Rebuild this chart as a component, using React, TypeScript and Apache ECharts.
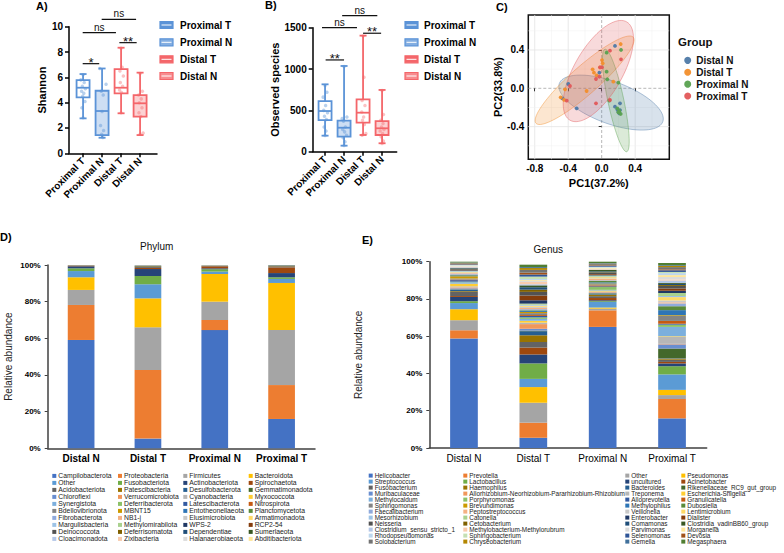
import React, { useEffect, useRef } from 'react';
import * as echarts from 'echarts';

const FONT = "'Liberation Sans', Arial, Helvetica, sans-serif";

// ---------------- Panels A / B : box plots ----------------
const boxGroups = ['Proximal T', 'Proximal N', 'Distal T', 'Distal N'];
// [min, Q1, median, Q3, max]
const shannonStats = [
  [2.76, 4.42, 5.18, 5.78, 6.26],
  [1.23, 1.44, 3.34, 4.94, 6.7],
  [3.16, 4.73, 5.18, 6.65, 8.34],
  [1.44, 2.89, 3.95, 4.6, 6.37],
];
const speciesStats = [
  [194, 383, 492, 613, 815],
  [73, 182, 290, 375, 1037],
  [202, 351, 472, 634, 1404],
  [102, 202, 283, 371, 747],
];
// [group, x offset, value]
const shannonPoints = [
  [0, -0.12, 5.8], [0, 0.06, 5.6], [0, -0.04, 5.3], [0, 0.12, 5.1], [0, -0.08, 4.9], [0, 0.04, 4.75], [0, -0.02, 4.5], [0, 0.1, 4.1], [0, -0.06, 3.6], [0, 0, 6.2], [0, 0, 2.8],
  [1, -0.12, 6.7], [1, 0.21, 5.45], [1, -0.04, 4.9], [1, 0.06, 4.6], [1, 0, 3.3], [1, -0.08, 2.2], [1, 0.08, 1.8], [1, -0.02, 1.5], [1, 0.04, 1.25],
  [2, 0, 8.3], [2, 0.06, 6.8], [2, -0.06, 6.5], [2, 0.12, 6.1], [2, -0.04, 5.6], [2, 0.08, 5.3], [2, -0.08, 5.0], [2, 0.02, 4.8], [2, 0, 3.2],
  [3, 0, 6.3], [3, 0.12, 4.9], [3, -0.08, 4.6], [3, 0.06, 4.3], [3, -0.04, 4.0], [3, 0.1, 3.6], [3, -0.06, 3.2], [3, 0.04, 2.9], [3, 0, 1.5], [3, 0.16, 1.6],
];
const speciesPoints = [
  [0, 0, 800], [0, 0.1, 720], [0, -0.1, 660], [0, 0.03, 560], [0, -0.07, 500], [0, 0.13, 470], [0, -0.03, 430], [0, 0.07, 390], [0, -0.05, 300], [0, 0.05, 250], [0, 0, 195],
  [1, 0, 1030], [1, -0.1, 400], [1, 0.15, 420], [1, -0.03, 370], [1, 0.07, 300], [1, -0.07, 270], [1, 0.03, 240], [1, 0.13, 200], [1, -0.05, 170], [1, 0.05, 120], [1, 0, 75],
  [2, 0, 1400], [2, 0.05, 900], [2, -0.05, 620], [2, 0.1, 560], [2, -0.07, 480], [2, 0.03, 420], [2, -0.03, 380], [2, 0.07, 330], [2, 0.15, 220], [2, -0.05, 200],
  [3, 0, 740], [3, 0.07, 450], [3, -0.07, 380], [3, 0.05, 340], [3, -0.03, 300], [3, 0.1, 270], [3, -0.1, 250], [3, 0.03, 220], [3, -0.05, 180], [3, 0.07, 130], [3, 0, 100],
];
// significance brackets: [x from, x to, height, label]
const shannonSig = [[0.72, 1.59, 7.08, '*'], [0.72, 2.47, 9.53, 'ns'], [1.72, 3.53, 10.58, 'ns'], [2.65, 3.56, 8.74, '**']];
const speciesSig = [[0.68, 1.65, 1110, '**'], [0.49, 2.33, 1500, 'ns'], [1.55, 3.4, 1646, 'ns'], [2.65, 3.6, 1433, '**']];
const shannonPos = [0.74, 1.74, 2.74, 3.74];
const speciesPos = [0.65, 1.65, 2.65, 3.65];

// ---------------- Panel C : PCoA ----------------
const pcoaGroups = ['Distal N', 'Distal T', 'Proximal N', 'Proximal T'];
const pcoaColors = ['#4E79A7', '#F28E2B', '#59A14F', '#E15759'];
const distalNPts = [[0.159, 0.442], [-0.399, 0.045], [-0.47, -0.105], [-0.299, -0.209], [0.159, -0.192], [0.219, -0.157], [0.199, -0.244], [0.211, -0.261], [0.219, -0.227], [-0.028, 0.163], [0.187, -0.22]];
const distalTPts = [[0.227, 0.462], [0.004, 0.295], [0.012, 0.261], [-0.108, 0.198], [-0.092, 0.163], [-0.06, 0.135], [0.139, 0.069], [-0.18, -0.028], [-0.49, -0.094], [-0.438, -0.011], [-0.02, 0.219], [-0.45, -0.12]];
const proximalNPts = [[0.231, 0.4], [0.059, 0.372], [0.059, 0.174], [0.067, 0.094], [0.199, 0.059], [0.091, -0.129], [0.187, -0.209], [0.227, -0.268], [0.211, -0.235], [0.2, -0.25]];
const proximalTPts = [[0.099, 0.393], [0.231, 0.302], [-0.02, 0.219], [0.004, 0.219], [-0.028, 0.121], [-0.068, 0.097], [-0.379, 0.024], [-0.418, -0.129], [0.099, -0.122], [-0.068, -0.157]];
// ellipse: [cx, cy, semi-axis 1 (x, y), semi-axis 2 (x, y)]
const pcoaEllipses = [
  [0.112, -0.149, 0.618, -0.2, 0.087, 0.206],
  [-0.204, 0.084, 0.581, 0.449, 0.111, -0.109],
  [0.169, -0.127, -0.13, 0.535, 0.093, 0.017],
  [-0.04, 0.18, 0.339, 0.513, 0.248, -0.126],
];
const pcoaTicks = [-0.8, -0.4, 0, 0.4];
const pcoaYTicks = [-0.4, 0, 0.4];

// ---------------- Panels D / E : stacked bars ----------------
const samples = ['Distal N', 'Distal T', 'Proximal N', 'Proximal T'];
const phylumNames = [
  'Campilobacterota', 'Proteobacteria', 'Firmicutes', 'Bacteroidota',
  'Other', 'Fusobacteriota', 'Actinobacteriota', 'Spirochaetota',
  'Acidobacteriota', 'Patescibacteria', 'Desulfobacterota', 'Gemmatimonadota',
  'Chloroflexi', 'Verrucomicrobiota', 'Cyanobacteria', 'Myxococcota',
  'Synergistota', 'Deferribacterota', 'Latescibacterota', 'Nitrospirota',
  'Bdellovibrionota', 'MBNT15', 'Entotheonellaeota', 'Planctomycetota',
  'Fibrobacterota', 'NB1-j', 'Elusimicrobiota', 'Armatimonadota',
  'Margulisbacteria', 'Methylomirabilota', 'WPS-2', 'RCP2-54',
  'Deinococcota', 'Deferrisomatota', 'Dependentiae', 'Sumerlaeota',
  'Cloacimonadota', 'Zixibacteria', 'Halanaerobiaeota', 'Abditibacteriota',
];
const phylumDistalN = [59.1, 19.1, 8.2, 6.9, 3.4, 1.5, 1.1, 0.3, 0.1, 0.1, 0.05, 0.05, 0.02, 0.01, 0.03, 0.01, 0.02, 0.01, 0.01, 0.02, 0.01, 0.01, 0.01, 0.02, 0.01, 0.01, 0.01, 0.01, 0.01, 0.02, 0.01, 0.01, 0.01, 0.01, 0.01, 0.01, 0.01, 0.01, 0.01, 0.01];
const phylumDistalT = [5.3, 37.4, 23.3, 15.8, 7.7, 4.5, 3.8, 0.6, 0.5, 0.4, 0.3, 0.1, 0.05, 0.03, 0.02, 0.02, 0.02, 0.01, 0.01, 0.02, 0.01, 0.01, 0.01, 0.01, 0.01, 0.01, 0.01, 0.01, 0.01, 0.01, 0.01, 0.01, 0.01, 0.01, 0.01, 0.01, 0.01, 0.01, 0.01, 0.01];
const phylumProximalN = [64.5, 5.5, 10.0, 15.1, 1.3, 1.3, 0.5, 1.1, 0.2, 0.1, 0.1, 0.05, 0.03, 0.02, 0.01, 0.02, 0.01, 0.01, 0.01, 0.01, 0.01, 0.01, 0.01, 0.01, 0.01, 0.01, 0.01, 0.01, 0.01, 0.01, 0.01, 0.01, 0.01, 0.01, 0.01, 0.01, 0.01, 0.01, 0.01, 0.01];
const phylumProximalT = [16.0, 18.5, 30.0, 25.7, 2.2, 0.9, 2.3, 3.1, 0.6, 0.3, 0.2, 0.1, 0.03, 0.02, 0.02, 0.01, 0.01, 0.01, 0.01, 0.01, 0.01, 0.01, 0.01, 0.01, 0.01, 0.01, 0.01, 0.01, 0.01, 0.01, 0.01, 0.01, 0.01, 0.01, 0.01, 0.01, 0.01, 0.01, 0.01, 0.01];

const genusNames = [
  'Helicobacter', 'Prevotella', 'Other', 'Pseudomonas',
  'Streptococcus', 'Lactobacillus', 'uncultured', 'Acinetobacter',
  'Fusobacterium', 'Haemophilus', 'Bacteroides', 'Rikenellaceae_RC9_gut_group',
  'Muribaculaceae', 'Allorhizobium-Neorhizobium-Pararhizobium-Rhizobium', 'Treponema', 'Escherichia-Shigella',
  'Methylocaldum', 'Porphyromonas', 'Alloprevotella', 'Granulicatella',
  'Sphingomonas', 'Brevundimonas', 'Methylophilus', 'Dubosiella',
  'Faecalibacterium', 'Peptostreptococcus', 'Veillonella', 'Lentimicrobium',
  'Mesorhizobium', 'Catonella', 'Enterobacter', 'Dialister',
  'Neisseria', 'Cetobacterium', 'Comamonas', 'Clostridia_vadinBB60_group',
  'Clostridium_sensu_stricto_1', 'Methylobacterium-Methylorubrum', 'Parvimonas', 'Morganella',
  'Rhodopseudomonas', 'Sphingobacterium', 'Selenomonas', 'Devosia',
  'Solobacterium', 'Chryseobacterium', 'Gemella', 'Megasphaera',
];
const genusDistalN = [58.8, 4.4, 5.4, 5.9, 3.3, 1.0, 2.3, 0.5, 2.2, 0.4, 0.6, 0.3, 0.6, 0.5, 0.6, 1.4, 0.8, 0.3, 0.8, 0.3, 0.6, 1.2, 0.4, 0.3, 0.4, 0.5, 0.4, 0.3, 0.4, 0.2, 0.3, 0.2, 0.4, 0.2, 0.3, 0.2, 0.3, 0.3, 0.3, 0.2, 0.3, 0.2, 0.3, 0.2, 0.4, 0.2, 0.2, 0.4];
const genusDistalT = [5.5, 8.1, 10.7, 8.4, 4.4, 8.3, 4.8, 3.7, 3.0, 3.6, 2.2, 0.3, 1.0, 2.5, 0.8, 1.0, 1.0, 0.8, 0.8, 0.5, 1.0, 0.6, 0.5, 0.4, 0.6, 0.7, 0.6, 0.6, 0.5, 0.6, 1.8, 2.5, 2.0, 1.2, 1.3, 1.0, 0.6, 1.2, 0.5, 0.5, 0.6, 1.3, 1.1, 1.0, 1.5, 1.0, 0.5, 1.3];
const genusProximalN = [65.0, 8.9, 0.9, 0.6, 3.0, 0.4, 0.5, 1.2, 1.0, 0.8, 0.3, 0.4, 0.4, 0.3, 0.3, 0.5, 0.4, 1.5, 0.4, 0.5, 0.6, 0.4, 0.6, 0.8, 0.3, 0.8, 0.3, 0.6, 0.3, 0.6, 0.4, 0.4, 0.6, 0.3, 0.5, 0.8, 0.2, 0.3, 0.2, 0.4, 0.3, 0.3, 0.5, 0.3, 0.6, 0.3, 0.3, 0.7];
const genusProximalT = [15.9, 10.4, 2.1, 2.8, 8.3, 4.4, 1.5, 0.8, 1.2, 0.6, 0.2, 5.2, 2.2, 0.3, 3.8, 0.3, 5.0, 1.2, 0.5, 1.5, 2.7, 0.4, 2.7, 2.1, 1.5, 0.6, 1.0, 1.8, 0.6, 1.6, 1.2, 1.2, 1.4, 0.5, 0.6, 0.5, 1.3, 0.6, 1.3, 1.0, 1.1, 0.6, 0.9, 0.5, 1.2, 0.6, 0.4, 1.2];

const EXCEL = [
  '#4472C4', '#ED7D31', '#A5A5A5', '#FFC000', '#5B9BD5', '#70AD47',
  '#264478', '#9E480E', '#636363', '#997300', '#255E91', '#43682B',
  '#698ED0', '#F1975A', '#B7B7B7', '#FFCD33', '#7CAFDD', '#8CC168',
  '#335AA1', '#C55A11', '#848484', '#CC9A00', '#2E75B6', '#5A8A39',
  '#8FAADC', '#F4B183', '#C9C9C9', '#FFD966', '#9DC3E6', '#A9D18E',
  '#203864', '#843C0C', '#525252', '#7F6000', '#1F4E79', '#385723',
  '#B4C7E7', '#F8CBAD', '#DBDBDB', '#FFE699', '#BDD7EE', '#C5E0B4',
  '#2F5597', '#A0521A', '#737373', '#B38600', '#41719C', '#507E32',
];

const BOX_BLUE = '#5B93D7';
const BOX_RED = '#F4666A';
const BOX_COLORS = [BOX_BLUE, BOX_BLUE, BOX_RED, BOX_RED];
const BOX_FILLS = ['rgba(255,255,255,0)', 'rgba(91,147,215,0.3)', 'rgba(255,255,255,0)', 'rgba(244,102,106,0.3)'];
const PT_COLORS = ['rgba(91,147,215,0.55)', 'rgba(91,147,215,0.55)', 'rgba(244,102,106,0.5)', 'rgba(244,102,106,0.5)'];

function boxRender(params: any, api: any) {
  const x = api.value(0);
  const g = api.value(6);
  const lo = api.coord([x, api.value(1)]);
  const q1 = api.coord([x, api.value(2)]);
  const md = api.coord([x, api.value(3)]);
  const q3 = api.coord([x, api.value(4)]);
  const hi = api.coord([x, api.value(5)]);
  const cx = lo[0];
  const bw = 13;
  const cw = 7;
  const c = BOX_COLORS[g];
  const st = { stroke: c, lineWidth: 1.8 };
  return {
    type: 'group',
    children: [
      { type: 'line', shape: { x1: cx, y1: hi[1], x2: cx, y2: q3[1] }, style: st },
      { type: 'line', shape: { x1: cx, y1: q1[1], x2: cx, y2: lo[1] }, style: st },
      { type: 'line', shape: { x1: cx - cw / 2, y1: hi[1], x2: cx + cw / 2, y2: hi[1] }, style: st },
      { type: 'line', shape: { x1: cx - cw / 2, y1: lo[1], x2: cx + cw / 2, y2: lo[1] }, style: st },
      { type: 'rect', shape: { x: cx - bw / 2, y: q3[1], width: bw, height: q1[1] - q3[1] }, style: { fill: BOX_FILLS[g], stroke: c, lineWidth: 1.8 } },
      { type: 'line', shape: { x1: cx - bw / 2, y1: md[1], x2: cx + bw / 2, y2: md[1] }, style: st },
    ],
  };
}

function makeSigRender(sig: any[]) {
  return (params: any, api: any) => {
    const p1 = api.coord([api.value(0), api.value(2)]);
    const p2 = api.coord([api.value(1), api.value(2)]);
    const label = sig[params.dataIndex][3];
    const star = label !== 'ns';
    return {
      type: 'group',
      children: [
        { type: 'line', shape: { x1: p1[0], y1: p1[1], x2: p2[0], y2: p2[1] }, style: { stroke: '#111', lineWidth: 1.2 } },
        {
          type: 'text', x: (p1[0] + p2[0]) / 2, y: star ? p1[1] + 5 : p1[1] - 0.5,
          style: { text: label, fill: '#111', fontSize: star ? 13 : 10, fontFamily: FONT, align: 'center', verticalAlign: 'bottom' },
        },
      ],
    };
  };
}

function ellipseRender(params: any, api: any) {
  const cx = api.value(0), cy = api.value(1);
  const ax = api.value(2), ay = api.value(3), bx = api.value(4), by = api.value(5);
  const pts: number[][] = [];
  for (let i = 0; i < 90; i++) {
    const t = (i / 90) * Math.PI * 2;
    pts.push(api.coord([cx + ax * Math.cos(t) + bx * Math.sin(t), cy + ay * Math.cos(t) + by * Math.sin(t)]));
  }
  const c = pcoaColors[params.dataIndex];
  return { type: 'polygon', shape: { points: pts }, style: { fill: c, opacity: 1, fillOpacity: 0.22, stroke: c, strokeOpacity: 0.55, lineWidth: 0.8 } };
}

const gridLinesC = [
  [0, -0.8, 1], [0, -0.6, 0], [0, -0.4, 1], [0, -0.2, 0], [0, 0.2, 0], [0, 0.4, 1], [0, 0.6, 0],
  [1, -0.6, 0], [1, -0.4, 1], [1, -0.2, 0], [1, 0.2, 0], [1, 0.4, 1], [1, 0.6, 0],
  [0, 0, 2], [1, 0, 2],
];
function gridRender(params: any, api: any) {
  const cs = params.coordSys;
  const o = api.value(0), v = api.value(1), k = api.value(2);
  const style: any = k === 2
    ? { stroke: '#9a9a9a', lineWidth: 0.7, lineDash: [3, 2] }
    : { stroke: k === 1 ? '#e3e3e3' : '#f0f0f0', lineWidth: k === 1 ? 0.8 : 0.5 };
  if (o === 0) {
    const p = api.coord([v, 0])[0];
    return { type: 'line', shape: { x1: p, y1: cs.y, x2: p, y2: cs.y + cs.height }, style };
  }
  const p = api.coord([0, v])[1];
  return { type: 'line', shape: { x1: cs.x, y1: p, x2: cs.x + cs.width, y2: p }, style };
}

const boldLabel = { fontFamily: FONT, fontWeight: 'bold', color: '#000' };

function boxAxes(pos: number[], max: number, yMax: number, interval: number, name: string, nameGap: number) {
  const near = (v: number) => {
    let best = 0;
    pos.forEach((p, i) => { if (Math.abs(p - v) < Math.abs(pos[best] - v)) best = i; });
    return boxGroups[best];
  };
  return {
    x: {
      type: 'value', min: 0, max,
      axisLine: { show: true, lineStyle: { color: '#000', width: 1.5 } },
      axisTick: { show: true, customValues: pos, length: 4, lineStyle: { color: '#000', width: 1.5 } },
      axisLabel: { customValues: pos, formatter: (v: number) => near(v), rotate: 45, margin: 6, fontSize: 10, ...boldLabel },
      splitLine: { show: false },
    },
    y: {
      type: 'value', min: 0, max: yMax, interval,
      axisLine: { show: true, lineStyle: { color: '#000', width: 1.5 } },
      axisTick: { show: true, length: 4, lineStyle: { color: '#000', width: 1.5 } },
      axisLabel: { margin: 6, fontSize: 10, formatter: (v: number) => String(v), ...boldLabel },
      splitLine: { show: false },
      name, nameLocation: 'middle', nameGap, nameTextStyle: { fontSize: 11, ...boldLabel },
    },
  };
}

function legendIcons(x: number, tx: number) {
  const ys = [25, 42.3, 59.3, 76];
  const out: any[] = [];
  boxGroups.forEach((g, i) => {
    out.push({ type: 'rect', shape: { x, y: ys[i] - 3.5, width: 13, height: 7 }, style: { fill: i % 2 ? BOX_FILLS[i].replace('0.3', '0.75') : BOX_COLORS[i], stroke: BOX_COLORS[i], lineWidth: 1.2 } });
    out.push({ type: 'line', shape: { x1: x + 1.5, y1: ys[i], x2: x + 11.5, y2: ys[i] }, style: { stroke: '#fff', lineWidth: 1 } });
    out.push({ type: 'text', x: tx, y: ys[i], style: { text: g, fontSize: 10, fontWeight: 'bold', fontFamily: FONT, fill: '#000', verticalAlign: 'middle' } });
  });
  return out;
}

function panelLabel(text: string, x: number, y: number, size = 11) {
  return { type: 'text', x, y, style: { text, fontSize: size, fontWeight: 'bold', fontFamily: FONT, fill: '#000', verticalAlign: 'middle' } };
}

function topOption(): any {
  const a = boxAxes(shannonPos, 4.63, 10, 2, 'Shannon', 20);
  const b = boxAxes(speciesPos, 4.42, 1500, 500, 'Observed species', 30);
  const pcoaX = {
    type: 'value', gridIndex: 2, min: -0.877, max: 0.808,
    axisLine: { show: false },
    axisTick: { show: true, customValues: pcoaTicks, length: 3, lineStyle: { color: '#333', width: 1 } },
    axisLabel: { customValues: pcoaTicks, formatter: (v: number) => v.toFixed(1), margin: 4, fontSize: 10, ...boldLabel },
    splitLine: { show: false },
    name: 'PC1(37.2%)', nameLocation: 'middle', nameGap: 18, nameTextStyle: { fontSize: 11, ...boldLabel },
  };
  const pcoaY = {
    type: 'value', gridIndex: 2, min: -0.741, max: 0.765,
    axisLine: { show: false },
    axisTick: { show: true, customValues: pcoaYTicks, length: 3, lineStyle: { color: '#333', width: 1 } },
    axisLabel: { customValues: pcoaYTicks, formatter: (v: number) => v.toFixed(1), margin: 4, fontSize: 10, ...boldLabel },
    splitLine: { show: false },
    name: 'PC2(33.8%)', nameLocation: 'middle', nameGap: 21, nameTextStyle: { fontSize: 11, ...boldLabel },
  };
  const pcoaSets = [distalNPts, distalTPts, proximalNPts, proximalTPts];
  return {
    animation: false,
    textStyle: { fontFamily: FONT },
    grid: [
      { left: 69, top: 26.7, width: 88, height: 126.6, outerBoundsMode: 'none' },
      { left: 312.7, top: 27.7, width: 84, height: 124, outerBoundsMode: 'none' },
      { left: 528.3, top: 15, width: 141, height: 144.3, show: true, borderColor: '#111', borderWidth: 1.5, backgroundColor: 'transparent', outerBoundsMode: 'none' },
    ],
    xAxis: [{ ...a.x, gridIndex: 0 }, { ...b.x, gridIndex: 1 }, pcoaX],
    yAxis: [{ ...a.y, gridIndex: 0 }, { ...b.y, gridIndex: 1 }, pcoaY],
    legend: {
      data: pcoaGroups, orient: 'vertical', left: 684.2, top: 54.4, padding: 0, height: 60,
      itemWidth: 7, itemHeight: 7, itemGap: 0, icon: 'circle', selectedMode: false,
      textStyle: { fontSize: 10, fontWeight: 'bold', color: '#111', fontFamily: FONT, lineHeight: 11.9 },
    },
    graphic: [
      panelLabel('A)', 36, 6),
      panelLabel('B)', 265, 5),
      panelLabel('C)', 496, 7),
      ...legendIcons(160, 180),
      ...legendIcons(405, 424),
      { type: 'text', x: 678, y: 41.7, style: { text: 'Group', fontSize: 11.5, fontWeight: 'bold', fontFamily: FONT, fill: '#111', verticalAlign: 'middle' } },
    ],
    series: [
      { type: 'custom', name: 'boxA', xAxisIndex: 0, yAxisIndex: 0, renderItem: boxRender, encode: { x: 0, y: [1, 2, 3, 4, 5] }, data: shannonStats.map((s, i) => [shannonPos[i], ...s, i]), z: 2 },
      { type: 'scatter', name: 'ptsA', xAxisIndex: 0, yAxisIndex: 0, symbolSize: 3.5, z: 3, data: shannonPoints.map(([g, dx, v]) => ({ value: [shannonPos[g] + dx, v], itemStyle: { color: PT_COLORS[g] } })) },
      { type: 'custom', name: 'sigA', xAxisIndex: 0, yAxisIndex: 0, clip: false, renderItem: makeSigRender(shannonSig), encode: { x: [0, 1], y: 2 }, data: shannonSig.map((s) => [s[0], s[1], s[2]]) },
      { type: 'custom', name: 'boxB', xAxisIndex: 1, yAxisIndex: 1, renderItem: boxRender, encode: { x: 0, y: [1, 2, 3, 4, 5] }, data: speciesStats.map((s, i) => [speciesPos[i], ...s, i]), z: 2 },
      { type: 'scatter', name: 'ptsB', xAxisIndex: 1, yAxisIndex: 1, symbolSize: 3.5, z: 3, data: speciesPoints.map(([g, dx, v]) => ({ value: [speciesPos[g] + dx, v], itemStyle: { color: PT_COLORS[g] } })) },
      { type: 'custom', name: 'sigB', xAxisIndex: 1, yAxisIndex: 1, clip: false, renderItem: makeSigRender(speciesSig), encode: { x: [0, 1], y: 2 }, data: speciesSig.map((s) => [s[0], s[1], s[2]]) },
      { type: 'custom', name: 'gridC', xAxisIndex: 2, yAxisIndex: 2, renderItem: gridRender, data: gridLinesC, z: 0, silent: true },
      { type: 'custom', name: 'ellC', xAxisIndex: 2, yAxisIndex: 2, renderItem: ellipseRender, encode: { x: 0, y: 1 }, data: pcoaEllipses, z: 1, silent: true },
      ...pcoaGroups.map((g, i) => ({
        type: 'scatter', name: g, xAxisIndex: 2, yAxisIndex: 2, symbolSize: 3.8, z: 4,
        itemStyle: { color: pcoaColors[i], opacity: 0.95 }, data: pcoaSets[i],
      })),
    ],
  };
}

function barOption(cfg: any): any {
  const { names, bySample, left, top, width, height, barWidth, legendLefts, legendTop, rowH, legendFont, label, labelPos, title, titlePos, nameGap, catBold } = cfg;
  const rows = Math.ceil(names.length / 4);
  const legends = legendLefts.map((lx: number, c: number) => ({
    orient: 'vertical', left: lx, top: legendTop, padding: 0, itemGap: 0, height: rows * rowH + 30,
    itemWidth: 4, itemHeight: 4, icon: 'rect', selectedMode: false,
    data: names.filter((_: string, i: number) => i % 4 === c),
    textStyle: { fontSize: legendFont, lineHeight: rowH, color: '#222', fontFamily: FONT, padding: [0, 0, 0, -3] },
  }));
  return {
    animation: false,
    textStyle: { fontFamily: FONT },
    grid: { left, top, width, height, outerBoundsMode: 'none' },
    xAxis: {
      type: 'category', data: samples,
      axisLine: { show: true, lineStyle: { color: '#404040', width: 1.5 } },
      axisTick: { show: false },
      axisLabel: { fontSize: 10, margin: 5, color: '#000', fontFamily: FONT, fontWeight: catBold ? 'bold' : 'normal', interval: 0 },
    },
    yAxis: {
      type: 'value', min: 0, max: 100, interval: 20,
      axisLine: { show: true, lineStyle: { color: '#404040', width: 1.5 } },
      axisTick: { show: true, length: 3, lineStyle: { color: '#404040', width: 1 } },
      axisLabel: { formatter: '{value}%', fontSize: 8, margin: 7, ...boldLabel },
      splitLine: { show: false },
      name: 'Relative abundance', nameLocation: 'middle', nameGap,
      nameTextStyle: { fontSize: 10, color: '#222', fontFamily: FONT },
    },
    legend: legends,
    graphic: [
      panelLabel(label, labelPos[0], labelPos[1]),
      { type: 'text', x: titlePos[0], y: titlePos[1], style: { text: title, fontSize: 10, fontFamily: FONT, fill: '#111', align: 'center', verticalAlign: 'middle' } },
    ],
    series: names.map((n: string, i: number) => ({
      type: 'bar', name: n, stack: 'total', barWidth, silent: true,
      itemStyle: { color: EXCEL[i % EXCEL.length] },
      data: bySample.map((arr: number[]) => arr[i]),
    })),
  };
}

function useChart(ref: any, makeOption: () => any) {
  useEffect(() => {
    const chart = echarts.init(ref.current, undefined, { renderer: 'svg' });
    chart.setOption(makeOption());
    return () => chart.dispose();
  }, []);
}

const layer: React.CSSProperties = { position: 'absolute', left: 0, top: 0, width: 784, height: 553 };

export default function App() {
  const r1 = useRef<HTMLDivElement>(null);
  const r2 = useRef<HTMLDivElement>(null);
  const r3 = useRef<HTMLDivElement>(null);
  useChart(r1, topOption);
  useChart(r2, () => barOption({
    names: phylumNames, bySample: [phylumDistalN, phylumDistalT, phylumProximalN, phylumProximalT],
    left: 47.7, top: 265, width: 267.3, height: 183.3, barWidth: 26.7,
    legendLefts: [52.3, 118, 183.3, 248.7], legendTop: 472.4, rowH: 6.45, legendFont: 6.8,
    label: 'D)', labelPos: [0, 237], title: 'Phylum', titlePos: [156.7, 246], nameGap: 34, catBold: true,
  }));
  useChart(r3, () => barOption({
    names: genusNames, bySample: [genusDistalN, genusDistalT, genusProximalN, genusProximalT],
    left: 429.3, top: 261.7, width: 277.4, height: 186.3, barWidth: 27.7,
    legendLefts: [368.7, 463.3, 625.3, 681.3], legendTop: 472.6, rowH: 5.9, legendFont: 6.4,
    label: 'E)', labelPos: [362, 240], title: 'Genus', titlePos: [548.3, 249.3], nameGap: 66, catBold: false,
  }));
  return (
    <div style={{ position: 'fixed', left: 0, top: 0, width: 784, height: 553, background: '#fff' }}>
      <div ref={r1} style={layer} />
      <div ref={r2} style={layer} />
      <div ref={r3} style={layer} />
    </div>
  );
}
